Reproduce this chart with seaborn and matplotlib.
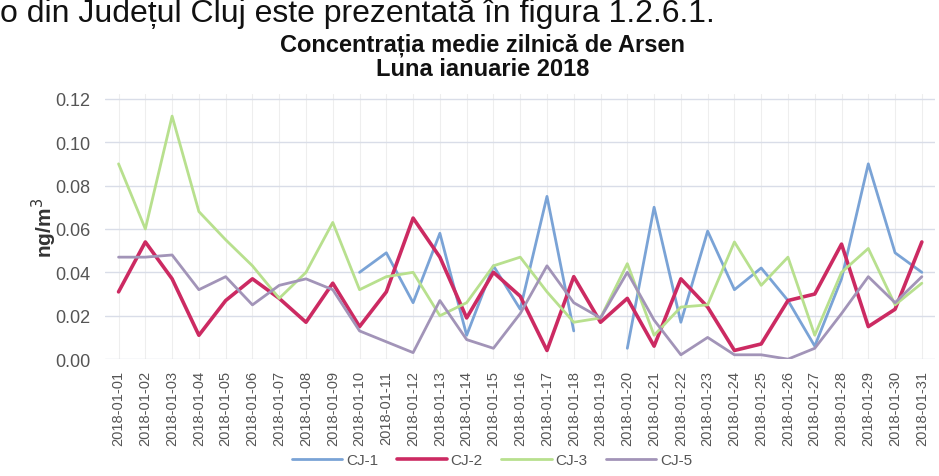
import matplotlib
matplotlib.use("Agg")
import matplotlib.pyplot as plt
import seaborn as sns
import pandas as pd
import numpy as np

days = [f"2018-01-{d:02d}" for d in range(1, 32)]

cj1 = [np.nan, np.nan, np.nan, np.nan, np.nan, np.nan, np.nan, np.nan, np.nan, 0.040,
       0.049, 0.026, 0.058, 0.011, 0.043, 0.023, 0.075, 0.013, np.nan, 0.005,
       0.070, 0.017, 0.059, 0.032, 0.042, 0.027, 0.006, 0.037, 0.090, 0.049, 0.040]
cj2 = [0.031, 0.054, 0.037, 0.011, 0.027, 0.037, 0.028, 0.017, 0.035, 0.015,
       0.031, 0.065, 0.047, 0.019, 0.040, 0.029, 0.004, 0.038, 0.017, 0.028,
       0.006, 0.037, 0.024, 0.004, 0.007, 0.027, 0.030, 0.053, 0.015, 0.023, 0.054]
cj3 = [0.090, 0.060, 0.112, 0.068, 0.055, 0.043, 0.028, 0.040, 0.063, 0.032,
       0.038, 0.040, 0.020, 0.026, 0.043, 0.047, 0.031, 0.017, 0.019, 0.044,
       0.011, 0.024, 0.025, 0.054, 0.034, 0.047, 0.011, 0.040, 0.051, 0.025, 0.035]
cj5 = [0.047, 0.047, 0.048, 0.032, 0.038, 0.025, 0.034, 0.037, 0.032, 0.013,
       0.008, 0.003, 0.027, 0.009, 0.005, 0.021, 0.043, 0.026, 0.019, 0.040,
       0.018, 0.002, 0.010, 0.002, 0.002, 0.000, 0.005, 0.021, 0.038, 0.026, 0.038]

series_names = ["CJ-1", "CJ-2", "CJ-3", "CJ-5"]
colors = {"CJ-1": "#7aa3d6", "CJ-2": "#cc2a62", "CJ-3": "#b8e08e", "CJ-5": "#a294b8"}
widths = {"CJ-1": 2.0, "CJ-2": 2.6, "CJ-3": 2.0, "CJ-5": 2.0}

df = pd.DataFrame({"day": days, "CJ-1": cj1, "CJ-2": cj2, "CJ-3": cj3, "CJ-5": cj5})
long = df.melt(id_vars="day", var_name="statie", value_name="val")
x_idx = {d: i for i, d in enumerate(days)}
long["x"] = long["day"].map(x_idx)
# segment ids so gaps (missing values) stay as gaps
long["seg"] = long.groupby("statie")["val"].transform(lambda s: s.isna().cumsum())
long = long.dropna(subset=["val"])

sns.set_theme(style="white")
plt.rcParams['font.family'] = ['Liberation Sans', 'DejaVu Sans']

fig = plt.figure(figsize=(9.39, 4.77), dpi=100)
ax = fig.add_axes([0.112, 0.245, 0.884, 0.555])

handles = []
for name in series_names:
    sub = long[long["statie"] == name]
    sns.lineplot(data=sub, x="x", y="val", units="seg", ax=ax, color=colors[name],
                 linewidth=widths[name], estimator=None, sort=False, legend=False)
    handles.append(plt.Line2D([], [], color=colors[name], linewidth=widths[name], label=name))

ax.set_xlim(-0.5, 30.5)
ax.set_ylim(0, 0.122)
ax.set_yticks([0, 0.02, 0.04, 0.06, 0.08, 0.10, 0.12])
ax.set_yticklabels(["0.00", "0.02", "0.04", "0.06", "0.08", "0.10", "0.12"],
                   fontsize=13, color="#555555")
ax.set_xticks(range(len(days)))
ax.set_xticklabels(days, rotation=90, fontsize=10.5, color="#555555")
ax.tick_params(axis="y", length=0, pad=10.5)
ax.tick_params(axis="x", length=0, pad=8)
ax.grid(True, axis="y", color="#d9dde8", linewidth=1)
ax.grid(True, axis="x", color="#eeeeee", linewidth=0.8)
for s in ax.spines.values():
    s.set_visible(False)
ax.set_xlabel("")
ax.set_ylabel("ng/m$^3$", fontsize=15, fontweight="bold", color="#333333")
ax.yaxis.set_label_coords(-0.056, 0.5)

ax.set_title("Concentrația medie zilnică de Arsen\nLuna ianuarie 2018",
             fontsize=17, fontweight="bold", color="#111111", pad=14, linespacing=1.05,
             x=0.455)

leg = fig.legend(handles=handles, loc="center", bbox_to_anchor=(0.524, 0.033), ncol=4,
                 frameon=False, fontsize=11, handlelength=3.3, columnspacing=1.2,
                 handletextpad=0.25, borderaxespad=0, borderpad=0.1)
for t in leg.get_texts():
    t.set_color("#555555")

fig.text(0.0, 1 - 22 / 477, "o din Județul Cluj este prezentată în figura 1.2.6.1.",
         fontsize=23, color="#111111", ha="left", va="baseline")

fig.savefig("out.png", dpi=100, facecolor="white")
